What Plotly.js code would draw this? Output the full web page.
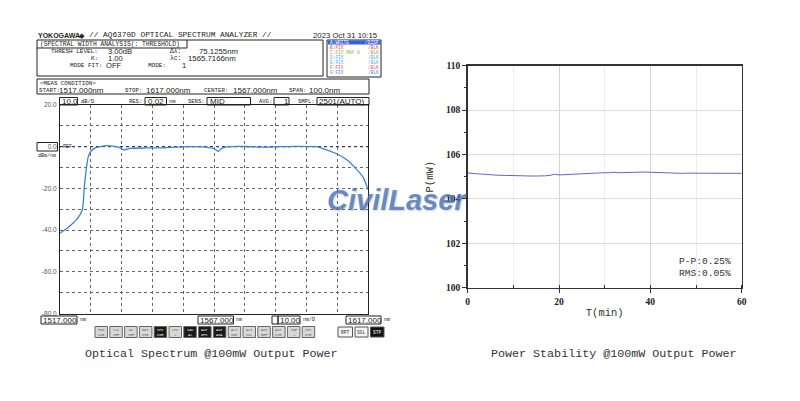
<!DOCTYPE html>
<html><head><meta charset="utf-8">
<script src="https://cdn.plot.ly/plotly-3.0.1.min.js"></script>
<style>html,body{margin:0;padding:0;background:#fff;overflow:hidden}#chart{width:800px;height:401px}</style>
</head><body><div id="chart"></div>
<script>
// ---------- data: optical spectrum (left) ----------
const osaWavelength = [1517,1518.5,1520.2,1522.9,1524.3,1524.9,1525.7,1526.2,1527,1528.4,1530.5,1532.1,1535.9,1537.6,1539.7,1545,1550.5,1555,1559,1564.2,1567.3,1568.4,1569.5,1572.2,1577,1583,1588,1593.8,1600.3,1603.6,1606.8,1610.1,1613.3,1615.5,1617];
const osaPower = [-41.5,-40,-38,-34,-30,-19.3,-8.8,-4.7,-2.3,-0.6,0.2,0.5,-0.1,-1.5,-0.8,-0.6,-0.5,-0.2,0,-0.2,-1.1,-2.3,-0.8,0,0.1,-0.2,0,0.2,0,-1.5,-3.4,-6.3,-10.9,-14.8,-20.6];
const osaRefLevel = 0;
const osaXRange = [1517, 1617];
const osaYRange = [-80, 20];
const osaYTicks = [20,10,0,-10,-20,-30,-40,-50,-60,-70,-80];
const osaYLabels = ['20.0','','0.0','','-20.0','','-40.0','','-60.0','','-80.0'];

// ---------- data: power stability (right) ----------
const stabTime = [0,1,2,3,4,5,6,7,8,9,10,11,12,13,14,15,16,17,18,19,20,21,22,23,24,25,26,27,28,29,30,31,32,33,34,35,36,37,38,39,40,41,42,43,44,45,46,47,48,49,50,51,52,53,54,55,56,57,58,59,60];
const stabPower = [105.17,105.14,105.13,105.12,105.10,105.08,105.07,105.06,105.06,105.05,105.05,105.06,105.05,105.04,105.03,105.03,105.02,105.04,105.06,105.11,105.08,105.09,105.10,105.12,105.13,105.15,105.17,105.17,105.18,105.17,105.18,105.18,105.20,105.18,105.19,105.19,105.18,105.19,105.20,105.21,105.20,105.19,105.18,105.17,105.17,105.16,105.16,105.15,105.16,105.16,105.17,105.16,105.16,105.17,105.16,105.16,105.15,105.16,105.16,105.15,105.15];
const stabYTicks = [100,102,104,106,108,110];
const stabXTicks = [0,20,40,60];

// ---------- OSA screen texts ----------
const traceRows = [['A:WRITE','/DISP'],['B:FIX','/BLK'],['C:FIX MAX H','/BLK'],['D:FIX','/BLK'],['E:FIX','/BLK'],['F:FIX','/BLK'],['G:FIX','/BLK']];
const traceColors = ['#ffffff','#e0443c','#8cb42a','#5aa6d8','#5aa6d8','#f05a3c','#4a86f0'];
const buttonLabels = ['PKS<br>CUR','LVL<br>SHF','WL<br>SHF','DOT<br>MSR','SPC<br>COR','LPC<br>⌂','VAC<br>AL','AUT<br>OFS','AUT<br>ANA','ALT<br>SEC','ALT<br>SCL','AUT<br>REF','AUT<br>CTR','SWP<br>→','SPC<br>OTR'];
const buttonDark = [false,false,false,false,true,false,true,true,true,false,false,false,false,false,false];

const W = 800, H = 401;
const px = v => v / W;
const py = v => 1 - v / H;
const MONO = 'Liberation Mono, DejaVu Sans Mono, monospace';
const SANS = 'Liberation Sans, Arial, sans-serif';
const SERIF = 'Liberation Serif, Times New Roman, serif';

const ann = [];
const shp = [];
function T(text, x, y, size, o) {
  o = o || {};
  ann.push({text, x: px(x), y: py(y), xref:'paper', yref:'paper', showarrow:false,
    xanchor: o.anchor || 'left', yanchor: 'middle', borderpad: 0,
    bgcolor: o.bg, textangle: o.angle || 0,
    font:{family: o.family || MONO, size, color: o.color || '#222', weight: o.weight || 'normal', style: o.style || 'normal', shadow: o.shadow || 'none'}});
}
function R(x0, y0, x1, y1, o) {
  o = o || {};
  shp.push({type:'rect', xref:'paper', yref:'paper', x0: px(x0), x1: px(x1), y0: py(y0), y1: py(y1),
    line:{color: o.color || '#222', width: o.width === undefined ? 1 : o.width}, fillcolor: o.fill || 'rgba(0,0,0,0)', layer: o.layer || 'above'});
}
function L(x0, y0, x1, y1, o) {
  o = o || {};
  shp.push({type:'line', xref:'paper', yref:'paper', x0: px(x0), x1: px(x1), y0: py(y0), y1: py(y1),
    line:{color: o.color || '#222', width: o.width || 1, dash: o.dash || 'solid'}});
}

// header
T('YOKOGAWA', 37, 35, 7, {family: SANS, weight: 'bold'});
T('◆', 78, 35, 7, {family: SANS});
T('// AQ6370D OPTICAL SPECTRUM ANALYZER //', 88, 35, 7.8);
T('2023 Oct 31 10:15', 379, 35, 7.8, {family: SANS, anchor: 'right'});

// spectral width box
R(37, 40, 323, 76);
L(37, 48, 187, 48);
L(187, 40, 187, 48);
T('(SPECTRAL WIDTH ANALYSIS(: THRESHOLD)', 39, 44, 6.3);
T('THRESH LEVEL:', 99, 51.5, 6, {anchor:'right'});
T('3.00dB', 107, 51.5, 7.6, {family: SANS});
T('K:', 99, 58.7, 6, {anchor:'right'});
T('1.00', 107, 58.7, 7.6, {family: SANS});
T('MODE FIT:', 103, 65.8, 6, {anchor:'right'});
T('OFF', 105, 65.8, 7.6, {family: SANS});
T('Δλ:', 182, 51.5, 6.3, {anchor:'right'});
T('75.1255nm', 198, 51.5, 7.8, {family: SANS});
T('λc:', 182, 58.7, 6.3, {anchor:'right'});
T('1565.7166nm', 187, 58.7, 7.8, {family: SANS});
T('MODE:', 167, 65.8, 6, {anchor:'right'});
T('1', 181, 65.8, 7.6, {family: SANS});

// trace list box
R(327, 40, 381, 77);
shp.push({type:'rect', xref:'paper', yref:'paper', x0: px(328), x1: px(380.5), y0: py(44.6), y1: py(40.6), line:{width:0}, fillcolor:'#2f62e8'});
traceRows.forEach((r, i) => {
  T(r[0], 329, 42.6 + i * 4.9, 4.5, {color: traceColors[i]});
  T(r[1], 380, 42.6 + i * 4.9, 4.5, {color: traceColors[i], anchor: 'right'});
});

// meas condition box
R(37, 79, 369, 94);
T('&lt;MEAS CONDITION&gt;', 39, 83, 5.8);
T('START:', 38, 90, 5.8);
T('1517.000nm', 58, 90, 8, {family: SANS});
T('STOP:', 124, 90, 5.8);
T('1617.000nm', 145, 90, 8, {family: SANS});
T('CENTER:', 203, 90, 5.8);
T('1567.000nm', 232, 90, 8, {family: SANS});
T('SPAN:', 288, 90, 5.8);
T('100.0nm', 308, 90, 8, {family: SANS});

// settings row
R(59.5, 97.5, 77.5, 105);
T('10.0', 61, 101.3, 8, {family: SANS});
T('dB/D', 80, 101.3, 5.5);
T('RES:', 128, 101.3, 5.5);
R(145, 97.5, 166.5, 105);
T('0.02', 147, 101.3, 8, {family: SANS});
T('nm', 168, 101.3, 5.5);
T('SENS:', 187, 101.3, 5.5);
R(207, 97.5, 250.5, 105);
T('MID', 209, 101.3, 8, {family: SANS});
T('AVG:', 258, 101.3, 5.5);
R(274, 97.5, 289, 105);
T('1', 283, 101.3, 8, {family: SANS});
T('SMPL:', 297, 101.3, 5.5);
R(317, 97.5, 369, 105);
T('2501(AUTO)', 318, 101.3, 8, {family: SANS});

// ref marker
R(37, 142.5, 57.5, 151);
T('REF', 61.5, 146.7, 5);
T('dBm/nm', 37, 156, 5);

// bottom wavelength labels
R(41, 316, 77, 324);
T('1517.000', 42, 320, 8, {family: SANS});
T('nm', 79, 320, 5);
R(198, 316, 233.5, 324);
T('1567.000', 199, 320, 8, {family: SANS});
T('nm', 235, 320, 5);
R(272, 316, 278, 324);
R(278, 316, 300, 324);
T('10.00', 279, 320, 8, {family: SANS});
T('nm/D', 302, 320, 5);
R(346, 316, 381, 324);
T('1617.000', 347, 320, 8, {family: SANS});
T('nm', 383, 320, 5);

// soft buttons
buttonLabels.forEach((b, i) => {
  const x0 = 95 + i * 14.8;
  R(x0, 326.5, x0 + 12.5, 337.5, {color:'#666', fill: buttonDark[i] ? '#1a1a1a' : '#d8d8d8'});
  T(b, x0 + 6.25, 332, 3.6, {anchor:'center', color: buttonDark[i] ? '#ffffff' : '#555'});
});
[['RPT',338,352.5,false],['SGL',355,368,false],['STP',370.5,384,true]].forEach(b => {
  R(b[1], 327, b[2], 337, {color:'#555', fill: b[3] ? '#111' : '#f4f4f4'});
  T(b[0], (b[1] + b[2]) / 2, 332, 4.6, {anchor:'center', color: b[3] ? '#fff' : '#333'});
});

// captions
T('Optical Spectrum @100mW Output Power', 211, 354, 11.7, {anchor:'center', color:'#333'});
T('Power Stability @100mW Output Power', 613, 354, 11.7, {anchor:'center', color:'#333'});

// stability stats
T('P-P:0.25%', 732, 261, 9.6, {anchor:'right', color:'#333'});
T('RMS:0.05%', 732, 273, 9.6, {anchor:'right', color:'#333'});

// watermark
T('CivilLaser', 397, 200, 29, {anchor:'center', family: SANS, weight:'bold', style:'italic', color:'rgba(72,118,186,0.78)', shadow:'1px 1px 2px rgba(0,0,0,0.25)'});

const traces = [
  {x: osaXRange, y: [osaRefLevel, osaRefLevel], xaxis:'x', yaxis:'y', mode:'lines', hoverinfo:'skip',
   line:{color:'#2c3e78', width:1.2, dash:'dot'}},
  {x: osaWavelength, y: osaPower, xaxis:'x', yaxis:'y', mode:'lines',
   line:{color:'#3c82dc', width:1.3, shape:'spline', smoothing:0.5}},
  {x: stabTime, y: stabPower, xaxis:'x2', yaxis:'y2', mode:'lines',
   line:{color:'#6464d2', width:1}}
];

const layout = {
  width: W, height: H, margin:{l:0,r:0,t:0,b:0}, paper_bgcolor:'#ffffff', plot_bgcolor:'#ffffff',
  showlegend:false,
  xaxis:{domain:[px(60), px(368)], range: osaXRange, dtick:10, tick0:1517, showgrid:true, gridcolor:'#666', griddash:'dot', gridwidth:1,
    showline:true, linecolor:'#222', linewidth:1, mirror:true, showticklabels:false, ticks:'', zeroline:false, automargin:false, fixedrange:true},
  yaxis:{domain:[py(313.5), py(105)], range: osaYRange, tickmode:'array', tickvals: osaYTicks, ticktext: osaYLabels,
    showgrid:true, gridcolor:'#666', griddash:'dot', gridwidth:1, showline:true, linecolor:'#222', linewidth:1, mirror:true,
    ticks:'', zeroline:false, automargin:false, tickfont:{family: SANS, size:6.5, color:'#555'}, ticklabelstandoff:1},
  xaxis2:{anchor:'y2', domain:[px(467.7), px(741.7)], range:[0,60], tickmode:'array', tickvals: stabXTicks,
    ticks:'outside', ticklen:4, tickcolor:'#333', showgrid:true, gridcolor:'#d4d4d4', zeroline:false,
    minor:{dtick:10, tick0:0, ticks:'inside', ticklen:3, tickcolor:'#333', showgrid:true, gridcolor:'#ededed'},
    showline:true, linecolor:'#333', linewidth:1.5, mirror:true, automargin:false,
    tickfont:{family: SERIF, size:9.5, color:'#222', weight:'bold'},
    title:{text:'T(min)', font:{family: MONO, size:10.5, color:'#333'}, standoff:3}},
  yaxis2:{anchor:'x2', domain:[py(287.7), py(65.7)], range:[100,110], tickmode:'array', tickvals: stabYTicks,
    ticks:'outside', ticklen:4, tickcolor:'#333', showgrid:true, gridcolor:'#dcdcdc', zeroline:false,
    minor:{dtick:1, tick0:100, ticks:'outside', ticklen:2.5, tickcolor:'#333', showgrid:false},
    showline:true, linecolor:'#333', linewidth:1.5, mirror:true, automargin:false,
    tickfont:{family: SERIF, size:9.5, color:'#222', weight:'bold'},
    title:{text:'P(mW)', font:{family: MONO, size:10.5, color:'#333'}, standoff:10}},
  annotations: ann,
  shapes: shp
};

Plotly.newPlot('chart', traces, layout, {staticPlot:true, displayModeBar:false});
</script></body></html>
